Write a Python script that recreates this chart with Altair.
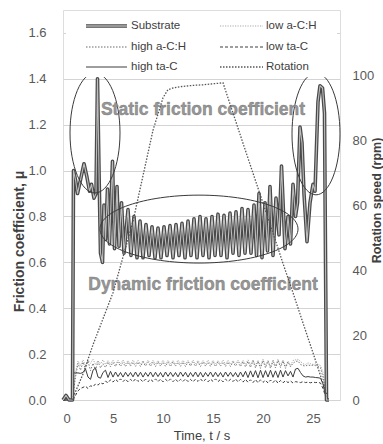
import altair as alt
import pandas as pd

# ---------------- data ----------------
# Substrate friction coefficient (time s, mu)
sub_t = [0, 0.3, 0.6, 0.95, 1.05, 1.25, 1.45, 1.7, 2.1, 2.4, 2.65, 2.85, 3.1, 3.3,
         3.45, 3.6, 3.75, 3.95, 4.1, 4.25, 4.45, 4.65, 4.95, 5.15, 5.4, 5.6, 5.85, 6.1,
         6.5, 6.8, 7.1, 7.4, 7.7, 8.0, 8.3, 8.6, 8.9, 9.2, 9.5, 9.8, 10.1, 10.4,
         10.7, 11.0, 11.3, 11.6, 11.9, 12.2, 12.5, 12.8, 13.1, 13.4, 13.7, 14.0, 14.3, 14.6,
         14.9, 15.2, 15.5, 15.8, 16.1, 16.4, 16.7, 17.0, 17.3, 17.6, 17.9, 18.2, 18.5, 18.8,
         19.1, 19.35, 19.6, 19.9, 20.2, 20.45, 20.7, 21.0, 21.3, 21.6, 21.85, 22.2, 22.5, 22.75,
         23.0, 23.25, 23.45, 23.7, 23.9, 24.1, 24.4, 24.7, 25.0, 25.2, 25.5, 25.7, 25.95, 26.15,
         26.35, 26.6]
sub_mu = [0, 0.02, 0, 0, 1.0, 0.96, 0.9, 0.95, 1.03, 0.97, 0.91, 0.94, 0.88, 0.9,
          1.4, 1.0, 0.64, 0.6, 0.85, 0.7, 0.92, 0.68, 1.04, 0.66, 0.93, 0.67, 0.86, 0.64,
          0.83, 0.63, 0.80, 0.62, 0.78, 0.62, 0.765, 0.63, 0.755, 0.62, 0.75, 0.62, 0.755, 0.63,
          0.76, 0.62, 0.765, 0.63, 0.77, 0.62, 0.78, 0.63, 0.79, 0.62, 0.80, 0.63, 0.79, 0.62,
          0.80, 0.63, 0.81, 0.63, 0.805, 0.62, 0.815, 0.64, 0.82, 0.63, 0.835, 0.64, 0.83, 0.64,
          0.85, 0.63, 0.90, 0.62, 0.86, 0.65, 0.93, 0.63, 0.88, 0.72, 1.02, 0.66, 0.80, 0.68,
          0.94, 0.80, 0.86, 1.19, 1.12, 0.90, 0.69, 0.86, 0.94, 0.91, 1.30, 1.37, 1.36, 1.25,
          0.0, 0.0]

# Coated samples share one time axis
low_t = [0, 0.9,
         1.0, 1.25, 1.5, 1.75, 2.0, 2.25, 2.5, 2.75, 3.0, 3.25, 3.5, 3.75,
         4.0, 4.25, 4.5, 4.75, 5.0, 5.25, 5.5, 5.75, 6.0, 6.25, 6.5, 6.75,
         7.0, 7.25, 7.5, 7.75, 8.0, 8.25, 8.5, 8.75, 9.0, 9.25, 9.5, 9.75,
         10.0, 10.25, 10.5, 10.75, 11.0, 11.25, 11.5, 11.75, 12.0, 12.25, 12.5, 12.75,
         13.0, 13.25, 13.5, 13.75, 14.0, 14.25, 14.5, 14.75, 15.0, 15.25, 15.5, 15.75,
         16.0, 16.25, 16.5, 16.75, 17.0, 17.25, 17.5, 17.75, 18.0, 18.25, 18.5, 18.75,
         19.0, 19.25, 19.5, 19.75, 20.0, 20.25, 20.5, 20.75, 21.0, 21.25, 21.5, 21.75,
         22.0, 22.25, 22.5, 22.75, 23.0, 23.25, 23.5, 23.75, 24.0, 24.25, 24.5, 24.75,
         25.0, 25.25, 25.5, 25.75,
         26.0, 26.3, 26.5]
low_aCH = [0, 0,
           0.03, 0.12, 0.17, 0.15, 0.175, 0.15, 0.172, 0.16, 0.178, 0.155, 0.17, 0.158,
           0.175, 0.155, 0.172, 0.156, 0.174, 0.155, 0.173, 0.157, 0.175, 0.156, 0.172, 0.155,
           0.174, 0.157, 0.173, 0.156, 0.172, 0.155, 0.174, 0.156, 0.173, 0.157, 0.172, 0.155,
           0.174, 0.156, 0.173, 0.157, 0.172, 0.155, 0.174, 0.156, 0.173, 0.157, 0.172, 0.155,
           0.174, 0.156, 0.173, 0.156, 0.172, 0.157, 0.174, 0.155, 0.173, 0.156, 0.172, 0.157,
           0.174, 0.155, 0.173, 0.156, 0.172, 0.157, 0.174, 0.156, 0.173, 0.155, 0.175, 0.152,
           0.176, 0.15, 0.174, 0.148, 0.177, 0.15, 0.172, 0.145, 0.176, 0.148, 0.178, 0.15,
           0.175, 0.147, 0.17, 0.15, 0.172, 0.175, 0.178, 0.168, 0.158, 0.155, 0.162, 0.158,
           0.155, 0.157, 0.156, 0.15,
           0.12, 0.02, 0]
high_aCH = [0, 0,
            0.02, 0.10, 0.16, 0.13, 0.165, 0.135, 0.17, 0.128, 0.16, 0.13, 0.168, 0.14,
            0.158, 0.142, 0.165, 0.145, 0.164, 0.146, 0.165, 0.147, 0.163, 0.146, 0.165, 0.148,
            0.164, 0.147, 0.165, 0.146, 0.166, 0.148, 0.164, 0.147, 0.165, 0.146, 0.166, 0.148,
            0.164, 0.147, 0.165, 0.146, 0.166, 0.148, 0.164, 0.147, 0.165, 0.146, 0.166, 0.148,
            0.164, 0.147, 0.165, 0.146, 0.166, 0.148, 0.164, 0.147, 0.165, 0.146, 0.166, 0.148,
            0.164, 0.147, 0.165, 0.146, 0.166, 0.148, 0.164, 0.146, 0.167, 0.144, 0.168, 0.142,
            0.170, 0.140, 0.168, 0.138, 0.172, 0.140, 0.170, 0.138, 0.168, 0.140, 0.172, 0.142,
            0.170, 0.138, 0.166, 0.145, 0.160, 0.168, 0.170, 0.155, 0.150, 0.148, 0.153, 0.150,
            0.152, 0.150, 0.148, 0.140,
            0.10, 0.02, 0]
high_taC = [0, 0,
            0.118, 0.118, 0.118, 0.116, 0.12, 0.135, 0.10, 0.09, 0.13, 0.14, 0.10, 0.095,
            0.12, 0.13, 0.098, 0.125, 0.10, 0.122, 0.102, 0.12, 0.10, 0.121, 0.103, 0.12,
            0.101, 0.122, 0.102, 0.121, 0.10, 0.12, 0.103, 0.122, 0.101, 0.121, 0.102, 0.12,
            0.10, 0.122, 0.103, 0.121, 0.102, 0.12, 0.101, 0.122, 0.103, 0.121, 0.10, 0.12,
            0.102, 0.122, 0.101, 0.121, 0.10, 0.12, 0.103, 0.122, 0.101, 0.121, 0.102, 0.12,
            0.10, 0.122, 0.103, 0.121, 0.102, 0.12, 0.10, 0.122, 0.101, 0.125, 0.098, 0.127,
            0.10, 0.128, 0.097, 0.13, 0.098, 0.128, 0.10, 0.13, 0.099, 0.127, 0.098, 0.13,
            0.10, 0.128, 0.105, 0.125, 0.10, 0.135, 0.138, 0.12, 0.105, 0.10, 0.102, 0.10,
            0.10, 0.098, 0.097, 0.095,
            0.07, 0.01, 0]
low_taC = [0, 0,
           0.0, 0.02, 0.04, 0.05, 0.055, 0.06, 0.05, 0.062, 0.058, 0.07, 0.065, 0.075,
           0.07, 0.082, 0.075, 0.088, 0.078, 0.09, 0.08, 0.092, 0.08, 0.091, 0.079, 0.09,
           0.08, 0.092, 0.081, 0.09, 0.079, 0.091, 0.08, 0.09, 0.081, 0.092, 0.08, 0.091,
           0.079, 0.09, 0.081, 0.092, 0.08, 0.091, 0.079, 0.09, 0.081, 0.092, 0.08, 0.09,
           0.079, 0.091, 0.081, 0.092, 0.08, 0.09, 0.079, 0.091, 0.081, 0.092, 0.08, 0.09,
           0.079, 0.091, 0.081, 0.09, 0.08, 0.092, 0.079, 0.09, 0.078, 0.09, 0.077, 0.088,
           0.076, 0.089, 0.075, 0.088, 0.077, 0.086, 0.074, 0.087, 0.076, 0.088, 0.073, 0.085,
           0.075, 0.084, 0.076, 0.083, 0.074, 0.08, 0.078, 0.076, 0.08, 0.076, 0.078, 0.075,
           0.078, 0.076, 0.077, 0.074,
           0.05, 0.01, 0]

# Rotation speed (rpm)
rot_t = [0.9, 2, 3, 4, 5, 6, 7, 8, 9, 10, 10.5, 11, 12, 13, 14, 15, 16,
         17, 18, 19, 20, 21, 22, 23, 24, 25, 26, 26.5]
rot_rpm = [0, 8, 17, 25, 33, 44, 55, 69, 83, 93, 95.5, 96, 96.5, 96.8, 97, 97.3, 97.6,
           88.3, 79, 69.8, 60.6, 51.4, 42, 33, 23.7, 14.5, 5.2, 0.5]

# Annotations
ann_t = [14.0, 14.0]
ann_mu = [1.264, 0.501]
ann_text = ["Static friction coefficient", "Dynamic friction coefficient"]
ell_t = [3.2, 25.3, 13.6]
ell_mu = [1.164, 1.16, 0.745]

legend_col1 = ["Substrate", "high a-C:H", "high ta-C"]
legend_col2 = ["low a-C:H", "low ta-C", "Rotation"]

for s in (low_aCH, high_aCH, high_taC, low_taC):
    assert len(s) == len(low_t), (len(s), len(low_t))
assert len(sub_t) == len(sub_mu), (len(sub_t), len(sub_mu))
assert len(rot_t) == len(rot_rpm)

# ---------------- chart ----------------
FONT = "Liberation Sans, Arial, sans-serif"
LEG_FONT = "Liberation Sans, Arial, sans-serif"

xs = alt.Scale(domain=[0, 27.7], nice=False, zero=False)
ys = alt.Scale(domain=[0, 1.7], nice=False)
rs = alt.Scale(domain=[0, 120], nice=False)

x_axis = alt.Axis(values=[0, 5, 10, 15, 20, 25], grid=False, domain=False, ticks=False,
                  labelPadding=12, labelFontSize=13, labelColor="#595959",
                  title="Time, t / s", titleFontSize=13, titleFontWeight="normal",
                  titleColor="#404040", titlePadding=4)
y_axis = alt.Axis(values=[0, 0.2, 0.4, 0.6, 0.8, 1.0, 1.2, 1.4, 1.6], format=".1f",
                  grid=True, gridColor="#d4d4d4", gridWidth=1, domain=False, ticks=False,
                  labelPadding=17, labelFontSize=13, labelColor="#595959",
                  title="Friction coefficient, μ", titleFontSize=14, titleFontWeight="bold",
                  titleColor="#404040", titleX=-44, titleY=231, titleAngle=270,
                  titleAlign="center", titleBaseline="middle")
r_axis = alt.Axis(orient="right", values=[0, 20, 40, 60, 80, 100], grid=False,
                  domain=False, ticks=False, labelPadding=12, labelFontSize=13,
                  labelColor="#595959", title="Rotation speed (rpm)", titleFontSize=12.5,
                  titleFontWeight="bold", titleColor="#404040", titleX=36, titleY=190,
                  titleAngle=270, titleAlign="center", titleBaseline="middle")

# every layer sharing a scale carries the same axis definition so they merge into one
X = alt.X("t:Q", scale=xs, axis=x_axis)
Y = alt.Y("mu:Q", scale=ys, axis=y_axis)

sub_df = pd.DataFrame({"t": sub_t, "mu": sub_mu})
low_df = {name: pd.DataFrame({"t": low_t, "mu": vals}) for name, vals in
          [("la", low_aCH), ("ha", high_aCH), ("ht", high_taC), ("lt", low_taC)]}
rot_df = pd.DataFrame({"t": rot_t, "rpm": rot_rpm})
ann_df = pd.DataFrame({"t": ann_t, "mu": ann_mu, "label": ann_text})

l_la = alt.Chart(low_df["la"]).mark_line(color="#a8a8a8", strokeWidth=1,
                                          strokeDash=[1.2, 1.3]).encode(x=X, y=Y)
l_ha = alt.Chart(low_df["ha"]).mark_line(color="#7a7a7a", strokeWidth=1,
                                          strokeDash=[1.5, 1.5]).encode(x=X, y=Y)
l_ht = alt.Chart(low_df["ht"]).mark_line(color="#3c3c3c", strokeWidth=1).encode(x=X, y=Y)
l_lt = alt.Chart(low_df["lt"]).mark_line(color="#3c3c3c", strokeWidth=1,
                                          strokeDash=[3, 2]).encode(x=X, y=Y)
s_out = alt.Chart(sub_df).mark_line(color="#4a4a4a", strokeWidth=3.6,
                                     strokeJoin="round").encode(x=X, y=Y)
s_in = alt.Chart(sub_df).mark_line(color="#bdbdbd", strokeWidth=1.1,
                                    strokeJoin="round").encode(x=X, y=Y)


def ellipse_path(b):
    k = 0.5523
    return (f"M-1,0C-1,{-k*b:.4f} {-k},{-b:.4f} 0,{-b:.4f}"
            f"C{k},{-b:.4f} 1,{-k*b:.4f} 1,0"
            f"C1,{k*b:.4f} {k},{b:.4f} 0,{b:.4f}"
            f"C{-k},{b:.4f} -1,{k*b:.4f} -1,0Z")


ell_specs = [(2.4, 2500), (2.54, 2304), (0.343, 39204)]
ells = []
for i, (b, size) in enumerate(ell_specs):
    d = pd.DataFrame({"t": [ell_t[i]], "mu": [ell_mu[i]]})
    ells.append(alt.Chart(d).mark_point(shape=ellipse_path(b), size=size, filled=False,
                                        stroke="#3a3a3a", strokeWidth=1, opacity=1)
                .encode(x=X, y=Y))

txt_main = alt.Chart(ann_df).mark_text(font=FONT, fontSize=17.5, fontWeight="bold",
                                       color="#979797", stroke="#6a6a6a", strokeWidth=0.5,
                                       strokeOpacity=0.7, baseline="middle").encode(
    x=X, y=Y, text="label:N")

left = alt.layer(l_la, l_ha, l_lt, l_ht, s_out, s_in, *ells, txt_main)

rot = alt.Chart(rot_df).mark_line(color="#555555", strokeWidth=1.3,
                                   strokeDash=[1.5, 1.5]).encode(
    x=X, y=alt.Y("rpm:Q", scale=rs, axis=r_axis))

# legend box (white, hides the 1.6 grid line)
one = pd.DataFrame({"k": [0]})
leg = [alt.Chart(one).mark_rect(color="white").encode(
    x=alt.value(3), x2=alt.value(274), y=alt.value(2), y2=alt.value(67))]


def leg_rule(x1, x2, y, color, width, dash=None):
    kw = dict(color=color, strokeWidth=width)
    if dash:
        kw["strokeDash"] = dash
    return alt.Chart(one).mark_rule(**kw).encode(
        x=alt.value(x1), x2=alt.value(x2), y=alt.value(y))


def leg_text(x, y, s):
    return alt.Chart(one).mark_text(align="left", baseline="middle", font=LEG_FONT,
                                    fontSize=11.5, color="#404040").encode(
        x=alt.value(x), y=alt.value(y), text=alt.value(s))


rows = [16, 37, 57]
leg += [leg_rule(23, 64, rows[0], "#4a4a4a", 3.6), leg_rule(23, 64, rows[0], "#e6e6e6", 1.2),
        leg_rule(23, 64, rows[1], "#6a6a6a", 1, [1.5, 1.5]),
        leg_rule(23, 64, rows[2], "#3c3c3c", 1),
        leg_rule(157, 200, rows[0], "#a8a8a8", 1, [1.2, 1.3]),
        leg_rule(157, 200, rows[1], "#3c3c3c", 1, [3, 2]),
        leg_rule(157, 200, rows[2], "#555555", 1.3, [1.5, 1.5])]
for r, s in zip(rows, legend_col1):
    leg.append(leg_text(68, r, s))
for r, s in zip(rows, legend_col2):
    leg.append(leg_text(203, r, s))

legend = alt.layer(*leg)

chart = alt.layer(left, rot, legend).resolve_scale(y="independent").properties(
    width=277, height=390,
    padding={"left": 63, "top": 10, "right": 43, "bottom": 44},
    autosize=alt.AutoSizeParams(type="none"),
).configure_view(stroke="#a0a0a0", strokeWidth=1).configure_axis(
    labelFont=FONT, titleFont=FONT
).configure(background="white")

chart.save("out.html", embed_options={"renderer": "svg", "actions": False})
